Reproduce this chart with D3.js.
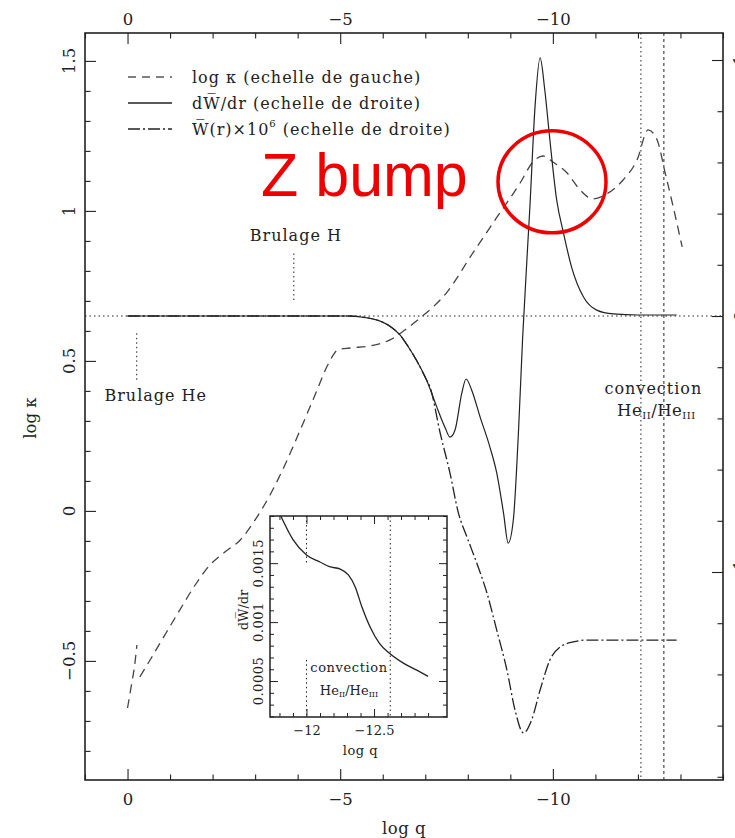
<!DOCTYPE html>
<html><head><meta charset="utf-8">
<script src="https://cdn.jsdelivr.net/npm/d3@7"></script>
<style>
html,body{margin:0;padding:0;background:#fff;}
svg text{font-family:"DejaVu Serif",serif;fill:#222;}
</style></head>
<body><svg id="c" width="735" height="838"></svg>
<script>
// ---------- DATA ----------
const xTicksMajor = [0, -5, -10];
const yLeftTicks = [-0.5, 0, 0.5, 1, 1.5];
const yRightTicks = [-1, 0, 1];
const yRightLabels = ["\u22121", "0", "1"];

// log kappa (left scale), two pieces
const kapQ1 = [0, -0.08, -0.18, -0.22];
const kapV1 = [-0.657, -0.59, -0.50, -0.447];
const kapQ2 = [-0.29, -0.53, -0.88, -1.23, -1.59, -1.94, -2.29, -2.65, -3.0, -3.35, -3.70, -4.06, -4.41, -4.71, -4.95, -5.23, -5.70, -6.17, -6.52, -6.88, -7.5, -8.12, -8.69, -9.23, -9.53, -9.77, -10.0, -10.33, -10.64, -10.94, -11.27, -11.65, -11.98, -12.24, -12.45, -12.64, -12.83, -13.04];
const kapV2 = [-0.553, -0.497, -0.413, -0.33, -0.247, -0.18, -0.137, -0.097, -0.03, 0.053, 0.153, 0.27, 0.387, 0.487, 0.537, 0.543, 0.55, 0.57, 0.603, 0.643, 0.727, 0.86, 0.98, 1.093, 1.163, 1.183, 1.163, 1.127, 1.07, 1.04, 1.057, 1.103, 1.17, 1.27, 1.237, 1.127, 1.013, 0.88];

// dW/dr (right scale)
const dwQ = [0, -2, -4, -5.2, -5.6, -5.94, -6.17, -6.41, -6.6, -6.8, -7.03, -7.27, -7.47, -7.58, -7.70, -7.86, -7.96, -8.09, -8.29, -8.52, -8.68, -8.84, -8.95, -9.07, -9.19, -9.29, -9.46, -9.58, -9.70, -9.81, -9.93, -10.09, -10.25, -10.44, -10.72, -11.03, -11.42, -12.0, -12.91];
const dwV = [0, 0, 0, 0, -0.006, -0.02, -0.04, -0.075, -0.12, -0.175, -0.25, -0.355, -0.4375, -0.473, -0.445, -0.30, -0.246, -0.289, -0.395, -0.512, -0.613, -0.77, -0.887, -0.797, -0.457, -0.082, 0.426, 0.816, 1.008, 0.883, 0.6875, 0.453, 0.324, 0.191, 0.074, 0.023, 0.008, 0.004, 0.004];

// W(r) x 1e6 (right scale)
const wQ = [0, -2, -4, -5.2, -5.6, -5.94, -6.17, -6.41, -6.6, -6.8, -7.03, -7.11, -7.35, -7.58, -7.78, -7.98, -8.21, -8.45, -8.68, -8.92, -9.11, -9.31, -9.50, -9.70, -9.93, -10.17, -10.48, -10.80, -12.91];
const wV = [0, 0, 0, 0, -0.006, -0.02, -0.04, -0.075, -0.12, -0.175, -0.25, -0.277, -0.457, -0.613, -0.77, -0.863, -0.965, -1.082, -1.227, -1.383, -1.539, -1.629, -1.578, -1.461, -1.344, -1.293, -1.273, -1.266, -1.266];

// convection zone boundaries (log q)
const convQ = [-12.07, -12.61];

// inset: dW/dr near convection zone
const insQ = [-11.81, -11.90, -12.0, -12.10, -12.17, -12.25, -12.31, -12.36, -12.41, -12.47, -12.54, -12.61, -12.72, -12.82, -12.9];
const insV = [0.0019, 0.0017, 0.00157, 0.00151, 0.00147, 0.00145, 0.0014, 0.0013, 0.00113, 0.00096, 0.00082, 0.00074, 0.00065, 0.00059, 0.00054];
const insXTicks = [-12, -12.5];
const insXLabels = ["\u221212", "\u221212.5"];
const insYTicks = [0.0005, 0.001, 0.0015];
const insYLabels = ["0.0005", "0.001", "0.0015"];
const insConvQ = [-12.0, -12.62];

// annotations
const brulH = {q: -3.91, v0: 0.703, v1: 0.863};
const brulHe = {q: -0.216, v0: 0.437, v1: 0.597};
const zbump = {q: -9.98, v: 1.097};

// ---------- CHART ----------
const svg = d3.select("#c");
const L = 85, R = 723, T = 33, B = 780;
const x = d3.scaleLinear().domain([1, -14]).range([L, R]);
const yL = d3.scaleLinear().domain([-0.897, 1.593]).range([B, T]);
const yR = d3.scaleLinear().domain([-1.8125, 1.1055]).range([B, T]);
const ink = "#222";
const LS = 1; // letter spacing for annotation text

function styleAxis(g) {
  g.select(".domain").remove();
  g.selectAll("line").attr("stroke", ink).attr("stroke-width", 1.1);
  g.selectAll("text").attr("font-family", "DejaVu Serif").attr("font-size", 16.5).attr("fill", ink);
}
const xMinor = d3.range(1, -14.01, -1).filter(d => d % 5 !== 0);
const fmt = d => (d < 0 ? "\u2212" : "") + Math.abs(d);

// bottom
svg.append("g").attr("transform", `translate(0,${B})`)
  .call(d3.axisBottom(x).tickValues(xTicksMajor).tickSize(-11).tickPadding(13).tickFormat(fmt)).call(styleAxis);
svg.append("g").attr("transform", `translate(0,${B})`)
  .call(d3.axisBottom(x).tickValues(xMinor).tickSize(-5.5).tickFormat("")).call(styleAxis);
// top
svg.append("g").attr("transform", `translate(0,${T})`)
  .call(d3.axisTop(x).tickValues(xTicksMajor).tickSize(-11).tickPadding(8).tickFormat(fmt)).call(styleAxis);
svg.append("g").attr("transform", `translate(0,${T})`)
  .call(d3.axisTop(x).tickValues(xMinor).tickSize(-5.5).tickFormat("")).call(styleAxis);
// left
const yLMinor = d3.range(-8, 16).map(d => d / 10).filter(d => Math.abs(d * 2 - Math.round(d * 2)) > 1e-6);
svg.append("g").attr("transform", `translate(${L},0)`)
  .call(d3.axisLeft(yL).tickValues(yLeftTicks).tickSize(-11).tickFormat("")).call(styleAxis);
svg.append("g").attr("transform", `translate(${L},0)`)
  .call(d3.axisLeft(yL).tickValues(yLMinor).tickSize(-5.5).tickFormat("")).call(styleAxis);
svg.append("g").selectAll("text").data(yLeftTicks).join("text")
  .attr("transform", d => `translate(${L - 16},${yL(d)}) rotate(-90)`)
  .attr("text-anchor", "middle").attr("dominant-baseline", "central")
  .attr("font-size", 16.5).text(d => fmt(d));
// right
const yRMinor = d3.range(-9, 6).map(d => d / 5).filter(d => Math.abs(d - Math.round(d)) > 1e-6);
svg.append("g").attr("transform", `translate(${R},0)`)
  .call(d3.axisRight(yR).tickValues(yRightTicks).tickSize(-11).tickFormat("")).call(styleAxis);
svg.append("g").attr("transform", `translate(${R},0)`)
  .call(d3.axisRight(yR).tickValues(yRMinor).tickSize(-5.5).tickFormat("")).call(styleAxis);
svg.append("g").selectAll("text").data(yRightTicks).join("text")
  .attr("transform", d => `translate(${R + 17},${yR(d)}) rotate(-90)`)
  .attr("text-anchor", "middle").attr("dominant-baseline", "central")
  .attr("font-size", 16.5).text((d, i) => yRightLabels[i]);

// frame
svg.append("rect").attr("x", L).attr("y", T).attr("width", R - L).attr("height", B - T)
  .attr("fill", "none").attr("stroke", ink).attr("stroke-width", 1.6);

// axis titles
svg.append("text").attr("x", (L + R) / 2).attr("y", 828).attr("text-anchor", "middle").attr("dominant-baseline", "central").attr("font-size", 16.5).attr("letter-spacing", 0.5).text("log q");
svg.append("text").attr("transform", `translate(30,418) rotate(-90)`).attr("text-anchor", "middle").attr("dominant-baseline", "central").attr("font-size", 16.5).text("log \u03BA");

// reference dotted lines
svg.append("line").attr("x1", L).attr("x2", R).attr("y1", yR(0)).attr("y2", yR(0))
  .attr("stroke", ink).attr("stroke-width", 1).attr("stroke-dasharray", "1.5,3");
svg.selectAll(".conv").data(convQ).join("line")
  .attr("x1", d => x(d)).attr("x2", d => x(d)).attr("y1", T).attr("y2", B)
  .attr("stroke", ink).attr("stroke-width", 1).attr("stroke-dasharray", (d, i) => i === 0 ? "1.5,3" : "3,3");

// curves
svg.append("clipPath").attr("id", "mc").append("rect").attr("x", L).attr("y", T).attr("width", R - L).attr("height", B - T);
const lineL = d3.line().x(d => x(d[0])).y(d => yL(d[1])).curve(d3.curveMonotoneX);
const lineR = d3.line().x(d => x(d[0])).y(d => yR(d[1])).curve(d3.curveMonotoneX);
const cg = svg.append("g").attr("clip-path", "url(#mc)");
cg.append("path").attr("d", lineL(d3.zip(kapQ1, kapV1))).attr("fill", "none").attr("stroke", "#444").attr("stroke-width", 1.3).attr("stroke-dasharray", "9,6");
cg.append("path").attr("d", lineL(d3.zip(kapQ2, kapV2))).attr("fill", "none").attr("stroke", "#444").attr("stroke-width", 1.3).attr("stroke-dasharray", "9,6");
cg.append("path").attr("d", lineR(d3.zip(wQ, wV))).attr("fill", "none").attr("stroke", ink).attr("stroke-width", 1.3).attr("stroke-dasharray", "12,3,2,3");
cg.append("path").attr("d", lineR(d3.zip(dwQ, dwV))).attr("fill", "none").attr("stroke", ink).attr("stroke-width", 1.2);

// legend
const legY = [77, 103, 129];
const legDash = ["8,6", null, "12,3,2,3"];
legY.forEach((yy, i) => {
  const l = svg.append("line").attr("x1", 128).attr("x2", 172).attr("y1", yy).attr("y2", yy)
    .attr("stroke", i === 0 ? "#555" : ink).attr("stroke-width", 1.3);
  if (legDash[i]) l.attr("stroke-dasharray", legDash[i]);
});
svg.append("text").attr("x", 192).attr("y", legY[0]).attr("dominant-baseline", "central").attr("font-size", 16).attr("letter-spacing", LS)
  .text("log \u03BA (echelle de gauche)");
svg.append("text").attr("x", 192).attr("y", legY[1]).attr("dominant-baseline", "central").attr("font-size", 16).attr("letter-spacing", LS)
  .text("dW\u0305/dr (echelle de droite)");
const lt2 = svg.append("text").attr("x", 192).attr("y", legY[2]).attr("dominant-baseline", "central").attr("font-size", 16).attr("letter-spacing", LS);
lt2.append("tspan").text("W\u0305(r)\u00D710");
lt2.append("tspan").attr("dy", -6).attr("font-size", 10).text("6");
lt2.append("tspan").attr("dy", 6).text(" (echelle de droite)");

// annotations
[brulH, brulHe].forEach(a => {
  svg.append("line").attr("x1", x(a.q)).attr("x2", x(a.q)).attr("y1", yL(a.v0)).attr("y2", yL(a.v1))
    .attr("stroke", ink).attr("stroke-width", 1).attr("stroke-dasharray", "1.5,3");
});
svg.append("text").attr("x", x(brulH.q) + 2).attr("y", yL(brulH.v1) - 17).attr("text-anchor", "middle").attr("dominant-baseline", "central").attr("font-size", 16).attr("letter-spacing", LS).text("Brulage H");
svg.append("text").attr("x", x(brulHe.q) + 19).attr("y", yL(brulHe.v0) + 16).attr("text-anchor", "middle").attr("dominant-baseline", "central").attr("font-size", 16).attr("letter-spacing", LS).text("Brulage He");

const cvx = (x(convQ[0]) + x(convQ[1])) / 2;
svg.append("text").attr("x", cvx + 1).attr("y", 388).attr("text-anchor", "middle").attr("dominant-baseline", "central").attr("font-size", 16).attr("letter-spacing", LS).text("convection");
const he = svg.append("text").attr("x", cvx + 4).attr("y", 410).attr("text-anchor", "middle").attr("dominant-baseline", "central").attr("font-size", 16.5).attr("letter-spacing", 0.5);
he.append("tspan").text("He");
he.append("tspan").attr("dy", 5).attr("font-size", 10).text("II");
he.append("tspan").attr("dy", -5).text("/He");
he.append("tspan").attr("dy", 5).attr("font-size", 10).text("III");

// ---------- INSET ----------
const iL = 270, iR = 447, iT = 516, iB = 717;
const xi = d3.scaleLinear().domain([-11.73, -13.04]).range([iL, iR]);
const yi = d3.scaleLinear().domain([0.000195, 0.0019]).range([iB, iT]);
svg.append("rect").attr("x", iL).attr("y", iT).attr("width", iR - iL).attr("height", iB - iT).attr("fill", "#fff");
const ixMinor = d3.range(-118, -131, -1).map(d => d / 10).filter(d => Math.abs(d * 2 - Math.round(d * 2)) > 1e-6);
const iyMinor = d3.range(2, 20).map(d => d / 10000).filter(d => Math.abs(d * 2000 - Math.round(d * 2000)) > 1e-6);
function sA(g) { g.select(".domain").remove(); g.selectAll("line").attr("stroke", ink).attr("stroke-width", 1); g.selectAll("text").attr("font-family", "DejaVu Serif").attr("font-size", 13).attr("fill", ink); }
svg.append("g").attr("transform", `translate(0,${iB})`).call(d3.axisBottom(xi).tickValues(insXTicks).tickSize(-8).tickPadding(9).tickFormat((d, i) => insXLabels[i])).call(sA);
svg.append("g").attr("transform", `translate(0,${iB})`).call(d3.axisBottom(xi).tickValues(ixMinor).tickSize(-4).tickFormat("")).call(sA);
svg.append("g").attr("transform", `translate(0,${iT})`).call(d3.axisTop(xi).tickValues(insXTicks).tickSize(-8).tickFormat("")).call(sA);
svg.append("g").attr("transform", `translate(0,${iT})`).call(d3.axisTop(xi).tickValues(ixMinor).tickSize(-4).tickFormat("")).call(sA);
svg.append("g").attr("transform", `translate(${iL},0)`).call(d3.axisLeft(yi).tickValues(insYTicks).tickSize(-8).tickFormat("")).call(sA);
svg.append("g").attr("transform", `translate(${iL},0)`).call(d3.axisLeft(yi).tickValues(iyMinor).tickSize(-4).tickFormat("")).call(sA);
svg.append("g").attr("transform", `translate(${iR},0)`).call(d3.axisRight(yi).tickValues(insYTicks).tickSize(-8).tickFormat("")).call(sA);
svg.append("g").attr("transform", `translate(${iR},0)`).call(d3.axisRight(yi).tickValues(iyMinor).tickSize(-4).tickFormat("")).call(sA);
svg.append("g").selectAll("text").data(insYTicks).join("text")
  .attr("transform", d => `translate(${iL - 12},${yi(d)}) rotate(-90)`)
  .attr("text-anchor", "middle").attr("dominant-baseline", "central").attr("font-size", 13).attr("letter-spacing", 0.5).text((d, i) => insYLabels[i]);
svg.append("text").attr("transform", `translate(${iL - 27},610) rotate(-90)`).attr("text-anchor", "middle").attr("dominant-baseline", "central").attr("font-size", 13).text("dW\u0305/dr");
svg.append("text").attr("x", (iL + iR) / 2 + 2).attr("y", 750).attr("text-anchor", "middle").attr("dominant-baseline", "central").attr("font-size", 13).attr("letter-spacing", 0.5).text("log q");

// inset dotted lines
svg.append("line").attr("x1", xi(insConvQ[0])).attr("x2", xi(insConvQ[0])).attr("y1", iT).attr("y2", yi(0.00148)).attr("stroke", ink).attr("stroke-dasharray", "1.5,3");
svg.append("line").attr("x1", xi(insConvQ[0])).attr("x2", xi(insConvQ[0])).attr("y1", yi(0.00068)).attr("y2", iB).attr("stroke", ink).attr("stroke-dasharray", "1.5,3");
svg.append("line").attr("x1", xi(insConvQ[1])).attr("x2", xi(insConvQ[1])).attr("y1", iT).attr("y2", iB).attr("stroke", ink).attr("stroke-dasharray", "1.5,3");
svg.append("text").attr("x", 349).attr("y", 667).attr("text-anchor", "middle").attr("dominant-baseline", "central").attr("font-size", 13).attr("letter-spacing", 0.6).text("convection");
const he2 = svg.append("text").attr("x", 349).attr("y", 690).attr("text-anchor", "middle").attr("dominant-baseline", "central").attr("font-size", 13);
he2.append("tspan").text("He");
he2.append("tspan").attr("dy", 4).attr("font-size", 8).text("II");
he2.append("tspan").attr("dy", -4).text("/He");
he2.append("tspan").attr("dy", 4).attr("font-size", 8).text("III");

svg.append("clipPath").attr("id", "ic").append("rect").attr("x", iL).attr("y", iT).attr("width", iR - iL).attr("height", iB - iT);
const lineI = d3.line().x(d => xi(d[0])).y(d => yi(d[1])).curve(d3.curveMonotoneX);
svg.append("path").attr("clip-path", "url(#ic)").attr("d", lineI(d3.zip(insQ, insV))).attr("fill", "none").attr("stroke", ink).attr("stroke-width", 1.3);
svg.append("rect").attr("x", iL).attr("y", iT).attr("width", iR - iL).attr("height", iB - iT).attr("fill", "none").attr("stroke", ink).attr("stroke-width", 1.5);

// Z bump highlight
const red = "#ee0000";
svg.append("ellipse").attr("cx", x(zbump.q)).attr("cy", yL(zbump.v)).attr("rx", 54).attr("ry", 51)
  .attr("fill", "none").attr("stroke", red).attr("stroke-width", 3.5);
svg.append("text").attr("x", 261).attr("y", 196)
  .style("font-family", "'Liberation Sans', Arial, sans-serif").style("fill", red).attr("font-size", 61).text("Z bump");
</script></body></html>
